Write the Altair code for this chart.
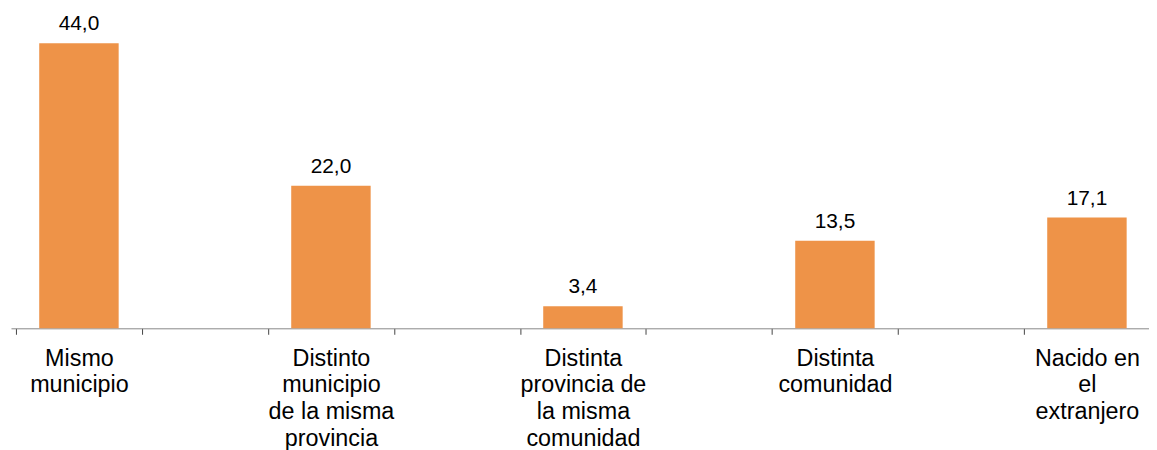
import json
import altair as alt
import pandas as pd

bar_categories = ["Mismo|municipio", "Distinto|municipio|de la misma|provincia",
                  "Distinta|provincia de|la misma|comunidad", "Distinta|comunidad",
                  "Nacido en|el|extranjero"]
positions = [0, 2, 4, 6, 8]
values = [44.0, 22.0, 3.4, 13.5, 17.1]
boundaries = [-0.5, 0.5, 1.5, 2.5, 3.5, 4.5, 5.5, 6.5, 7.5]

df = pd.DataFrame({
    "pos": positions,
    "value": values,
    "label": [f"{v:.1f}".replace(".", ",") for v in values],
})

W = 1146
STEP = 128
label_expr = ("datum.value % 1 == 0 ? split(" + json.dumps(bar_categories)
              + "[datum.value / 2], '|') : ''")

x = alt.X("pos:Q",
          scale=alt.Scale(domain=[-0.5, -0.5 + W / STEP], nice=False, zero=False),
          axis=alt.Axis(title=None, values=sorted(boundaries + positions),
                        labelAngle=0, labelExpr=label_expr,
                        labelFont="Liberation Sans", labelFontSize=23.5, labelColor="#000000",
                        labelLineHeight=27, labelPadding=12,
                        tickSize=6, tickColor="#444444", domainColor="#888888",
                        tickOpacity={"condition": {"test": "datum.value % 1 != 0", "value": 1},
                                     "value": 0},
                        labelLimit=0, labelOverlap=False, labelFlush=False, grid=False))
y = alt.Y("value:Q", scale=alt.Scale(domain=[0, 49.2], nice=False, zero=True), axis=None)

bars = alt.Chart(df).mark_bar(size=80, color="#EE9348").encode(x=x, y=y)
text = alt.Chart(df).mark_text(dy=-13, baseline="alphabetic", font="Liberation Sans",
                               fontSize=21, color="#000000").encode(x=x, y=y, text="label:N")

chart = (bars + text).properties(
    width=W, height=321,
    autosize=alt.AutoSizeParams(type="none"),
    padding={"left": 3, "top": 0, "right": 0, "bottom": 121},
).configure_view(stroke=None).configure_axis(grid=False)

chart.save("out.html", embed_options={"renderer": "svg", "actions": False})
